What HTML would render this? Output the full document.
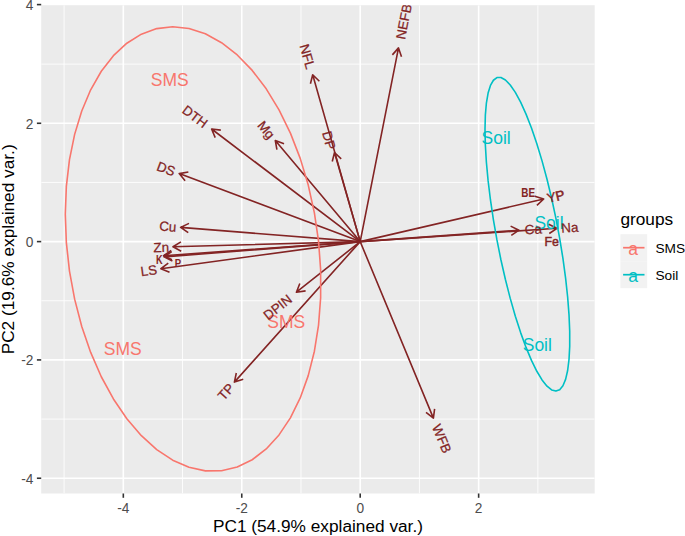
<!DOCTYPE html>
<html lang="en"><head><meta charset="utf-8"><title>PCA biplot</title>
<style>html,body{margin:0;padding:0;background:#fff}svg{display:block}</style></head>
<body>
<svg width="685" height="536" viewBox="0 0 685 536" font-family="'Liberation Sans', Arial, sans-serif">
<rect width="685" height="536" fill="#fff"/>
<defs><clipPath id="pc"><rect x="41.2" y="5.2" width="553.50" height="488.30"/></clipPath></defs>
<rect x="41.2" y="5.2" width="553.50" height="488.30" fill="#EBEBEB"/>
<g clip-path="url(#pc)">
<g stroke="#fff" stroke-width="0.85" fill="none">
<line x1="64.10" x2="64.10" y1="5.2" y2="493.5"/>
<line x1="182.54" x2="182.54" y1="5.2" y2="493.5"/>
<line x1="300.98" x2="300.98" y1="5.2" y2="493.5"/>
<line x1="419.42" x2="419.42" y1="5.2" y2="493.5"/>
<line x1="537.86" x2="537.86" y1="5.2" y2="493.5"/>
<line y1="64.12" y2="64.12" x1="41.2" x2="594.7"/>
<line y1="182.44" y2="182.44" x1="41.2" x2="594.7"/>
<line y1="300.76" y2="300.76" x1="41.2" x2="594.7"/>
<line y1="419.08" y2="419.08" x1="41.2" x2="594.7"/>
</g>
<g stroke="#fff" stroke-width="1.6" fill="none">
<line x1="123.32" x2="123.32" y1="5.2" y2="493.5"/>
<line x1="241.76" x2="241.76" y1="5.2" y2="493.5"/>
<line x1="360.20" x2="360.20" y1="5.2" y2="493.5"/>
<line x1="478.64" x2="478.64" y1="5.2" y2="493.5"/>
<line y1="123.28" y2="123.28" x1="41.2" x2="594.7"/>
<line y1="241.60" y2="241.60" x1="41.2" x2="594.7"/>
<line y1="359.92" y2="359.92" x1="41.2" x2="594.7"/>
<line y1="478.24" y2="478.24" x1="41.2" x2="594.7"/>
</g>
<g stroke="#832424" stroke-width="1.6" fill="none" stroke-linecap="butt" stroke-linejoin="round">
<path d="M360.2 241.6L398.5 47.9M401.50 56.70L398.5 47.9L392.38 54.90"/>
<path d="M360.2 241.6L312.7 74.8M319.38 81.27L312.7 74.8L310.43 83.82"/>
<path d="M360.2 241.6L334.5 152.5M341.20 158.95L334.5 152.5L332.26 161.53"/>
<path d="M360.2 241.6L275.3 140.5M284.04 143.68L275.3 140.5L276.92 149.66"/>
<path d="M360.2 241.6L211.6 129.0M220.83 130.16L211.6 129.0L215.21 137.57"/>
<path d="M360.2 241.6L179.2 173.6M188.37 172.08L179.2 173.6L185.10 180.79"/>
<path d="M360.2 241.6L180.6 227.4M189.00 223.40L180.6 227.4L188.26 232.67"/>
<path d="M360.2 241.6L173.0 246.8M180.92 241.93L173.0 246.8L181.18 251.22"/>
<path d="M360.2 241.6L163.6 255.7M171.30 250.49L163.6 255.7L171.97 259.76"/>
<path d="M360.2 241.6L164.0 256.9M171.67 251.64L164.0 256.9L172.39 260.91"/>
<path d="M360.2 241.6L160.9 268.7M168.25 263.01L160.9 268.7L169.51 272.22"/>
<path d="M360.2 241.6L296.4 292.2M299.82 283.55L296.4 292.2L305.60 290.84"/>
<path d="M360.2 241.6L234.4 382.1M236.31 373.00L234.4 382.1L243.24 379.20"/>
<path d="M360.2 241.6L433.4 418.1M426.02 412.44L433.4 418.1L434.61 408.88"/>
<path d="M360.2 241.6L543.7 199.0M536.91 205.35L543.7 199.0L534.80 196.29"/>
<path d="M360.2 241.6L519.0 230.2M511.30 235.41L519.0 230.2L510.63 226.14"/>
<path d="M360.2 241.6L557.0 228.3M549.28 233.48L557.0 228.3L548.65 224.20"/>
</g>
<text x="169.7" y="86.47" font-size="17.5" fill="#F8766D" text-anchor="middle">SMS</text>
<text x="286.3" y="327.56" font-size="17.5" fill="#F8766D" text-anchor="middle">SMS</text>
<text x="122.7" y="354.66" font-size="17.5" fill="#F8766D" text-anchor="middle">SMS</text>
<text x="496.1" y="143.86" font-size="17.5" fill="#00BFC4" text-anchor="middle">Soil</text>
<text x="549.0" y="228.66" font-size="17.5" fill="#00BFC4" text-anchor="middle">Soil</text>
<text x="537.3" y="350.76" font-size="17.5" fill="#00BFC4" text-anchor="middle">Soil</text>
<path d="M65.30 214.21L66.35 186.42L69.48 159.66L74.64 134.36L81.75 110.95L90.68 89.80L101.29 71.26L113.42 55.65L126.85 43.21L141.37 34.15L156.74 28.62L172.70 26.70L189.00 28.44L205.37 33.79L221.54 42.69L237.24 54.96L252.21 70.43L266.22 88.83L279.02 109.85L290.41 133.16L300.21 158.38L308.24 185.08L314.39 212.83L318.54 241.18L320.64 269.65L320.64 297.78L318.54 325.12L314.39 351.20L308.24 375.61L300.21 397.93L290.41 417.82L279.02 434.92L266.22 448.98L252.21 459.75L237.24 467.07L221.54 470.80L205.37 470.89L189.00 467.33L172.70 460.19L156.74 449.59L141.37 435.69L126.85 418.72L113.42 398.97L101.29 376.75L90.68 352.44L81.75 326.43L74.64 299.15L69.48 271.04L66.35 242.57L65.30 214.21Z" fill="none" stroke="#F8766D" stroke-width="1.6" stroke-linejoin="round"/>
<path d="M485.00 129.21L485.35 115.15L486.39 103.04L488.10 93.08L490.46 85.44L493.42 80.24L496.94 77.57L500.96 77.47L505.42 79.95L510.24 84.95L515.34 92.41L520.63 102.19L526.04 114.14L531.47 128.06L536.83 143.72L542.04 160.87L547.01 179.22L551.66 198.47L555.91 218.31L559.69 238.40L562.93 258.43L565.60 278.06L567.64 296.97L569.02 314.85L569.71 331.40L569.71 346.35L569.02 359.47L567.64 370.52L565.60 379.34L562.93 385.77L559.69 389.71L555.91 391.10L551.66 389.91L547.01 386.16L542.04 379.92L536.83 371.28L531.47 360.40L526.04 347.43L520.63 332.61L515.34 316.18L510.24 298.39L505.42 279.55L500.96 259.97L496.94 239.96L493.42 219.85L490.46 199.98L488.10 180.67L486.39 162.24L485.35 144.99L485.00 129.21Z" fill="none" stroke="#00BFC4" stroke-width="1.6" stroke-linejoin="round"/>
<text transform="translate(400.23 39.14) rotate(-78.82)" y="4.80" font-size="13.4" fill="#832424" stroke="#832424" stroke-width="0.25" text-anchor="start">NEFB</text>
<text transform="translate(310.97 68.71) rotate(74.10)" y="4.80" font-size="13.4" fill="#832424" stroke="#832424" stroke-width="0.25" text-anchor="end">NFL</text>
<text transform="translate(331.71 149.23) rotate(73.91)" y="4.80" font-size="13.4" fill="#832424" stroke="#832424" stroke-width="0.25" text-anchor="end">DP</text>
<text transform="translate(272.31 136.94) rotate(49.98)" y="4.80" font-size="13.4" fill="#832424" stroke="#832424" stroke-width="0.25" text-anchor="end">Mg</text>
<text transform="translate(206.11 124.84) rotate(37.15)" y="4.80" font-size="13.4" fill="#832424" stroke="#832424" stroke-width="0.25" text-anchor="end">DTH</text>
<text transform="translate(174.84 171.96) rotate(20.59)" y="4.80" font-size="13.4" fill="#832424" stroke="#832424" stroke-width="0.25" text-anchor="end">DS</text>
<text transform="translate(176.33 227.06) rotate(4.52)" y="4.80" font-size="13.4" fill="#832424" stroke="#832424" stroke-width="0.25" text-anchor="end">Cu</text>
<text transform="translate(169.09 246.91) rotate(-1.59)" y="4.80" font-size="13.4" fill="#832424" stroke="#832424" stroke-width="0.25" text-anchor="end">Zn</text>
<text transform="translate(156.84 269.25) rotate(-7.74)" y="4.80" font-size="13.4" fill="#832424" stroke="#832424" stroke-width="0.25" text-anchor="end">LS</text>
<text transform="translate(290.13 297.17) rotate(-38.42)" y="4.80" font-size="13.4" fill="#832424" stroke="#832424" stroke-width="0.25" text-anchor="end">DPIN</text>
<text transform="translate(231.54 385.29) rotate(-48.16)" y="4.80" font-size="13.4" fill="#832424" stroke="#832424" stroke-width="0.25" text-anchor="end">TP</text>
<text transform="translate(436.25 424.97) rotate(67.47)" y="4.80" font-size="13.4" fill="#832424" stroke="#832424" stroke-width="0.25" text-anchor="start">WFB</text>
<text transform="translate(524.67 229.79) rotate(-4.11)" y="4.80" font-size="13.4" fill="#832424" stroke="#832424" stroke-width="0.25" text-anchor="start">Ca</text>
<text transform="translate(561.27 228.01) rotate(-3.87)" y="4.80" font-size="13.4" fill="#832424" stroke="#832424" stroke-width="0.25" text-anchor="start">Na</text>
<text transform="translate(547.14 198.20) rotate(-13.07)" y="4.80" font-size="13.4" fill="#832424" stroke="#832424" stroke-width="0.25" text-anchor="start">Y<tspan stroke="#832424" stroke-width="0.55" dx="-0.2">P</tspan></text>
<text x="528.2" y="196.97" font-size="12.2" font-weight="bold" fill="#832424" text-anchor="middle" textLength="13.8" lengthAdjust="spacingAndGlyphs">BE</text>
<text x="159.2" y="263.50" font-size="12" font-weight="bold" fill="#832424" text-anchor="middle" textLength="6.6" lengthAdjust="spacingAndGlyphs">K</text>
<text x="177.9" y="267.09" font-size="10.6" font-weight="bold" fill="#832424" text-anchor="middle" textLength="6.4" lengthAdjust="spacingAndGlyphs">P</text>
<text x="551.7" y="246.24" font-size="12.4" fill="#832424" stroke="#832424" stroke-width="0.45" text-anchor="middle">Fe</text>
</g>
<g stroke="#333" stroke-width="1.6">
<line x1="123.32" x2="123.32" y1="493.5" y2="497.8"/>
<line x1="241.76" x2="241.76" y1="493.5" y2="497.8"/>
<line x1="360.20" x2="360.20" y1="493.5" y2="497.8"/>
<line x1="478.64" x2="478.64" y1="493.5" y2="497.8"/>
<line y1="4.60" y2="4.60" x1="36.900000000000006" x2="41.2"/>
<line y1="123.28" y2="123.28" x1="36.900000000000006" x2="41.2"/>
<line y1="241.60" y2="241.60" x1="36.900000000000006" x2="41.2"/>
<line y1="359.92" y2="359.92" x1="36.900000000000006" x2="41.2"/>
<line y1="478.24" y2="478.24" x1="36.900000000000006" x2="41.2"/>
</g>
<g font-size="13.7" fill="#4D4D4D">
<text transform="translate(123.32 512.5) scale(1 1.07)" text-anchor="middle">-4</text>
<text transform="translate(241.76 512.5) scale(1 1.07)" text-anchor="middle">-2</text>
<text transform="translate(360.20 512.5) scale(1 1.07)" text-anchor="middle">0</text>
<text transform="translate(478.64 512.5) scale(1 1.07)" text-anchor="middle">2</text>
<text transform="translate(33.4 10.14) scale(1 1.07)" text-anchor="end">4</text>
<text transform="translate(33.4 128.82) scale(1 1.07)" text-anchor="end">2</text>
<text transform="translate(33.4 247.14) scale(1 1.07)" text-anchor="end">0</text>
<text transform="translate(33.4 365.46) scale(1 1.07)" text-anchor="end">-2</text>
<text transform="translate(33.4 483.78) scale(1 1.07)" text-anchor="end">-4</text>
</g>
<text x="317.95" y="531.6" font-size="17.25" fill="#000" text-anchor="middle">PC1 (54.9% explained var.)</text>
<text transform="translate(13.5 249.35) rotate(-90)" font-size="17.25" fill="#000" text-anchor="middle">PC2 (19.6% explained var.)</text>
<text x="620.4" y="224.6" font-size="17.25" fill="#000">groups</text>
<rect x="620.4" y="234.20" width="26.80" height="27.0" fill="#F2F2F2"/>
<line x1="623.10" x2="644.50" y1="247.70" y2="247.70" stroke="#F8766D" stroke-width="1.7"/>
<text x="633.10" y="255.30" font-size="17.5" fill="#F8766D" text-anchor="middle">a</text>
<text x="655.4" y="253.40" font-size="13.7" fill="#000">SMS</text>
<rect x="620.4" y="261.20" width="26.80" height="27.0" fill="#F2F2F2"/>
<line x1="623.10" x2="644.50" y1="274.70" y2="274.70" stroke="#00BFC4" stroke-width="1.7"/>
<text x="633.10" y="282.30" font-size="17.5" fill="#00BFC4" text-anchor="middle">a</text>
<text x="655.4" y="280.40" font-size="13.7" fill="#000">Soil</text>
</svg>
</body></html>
